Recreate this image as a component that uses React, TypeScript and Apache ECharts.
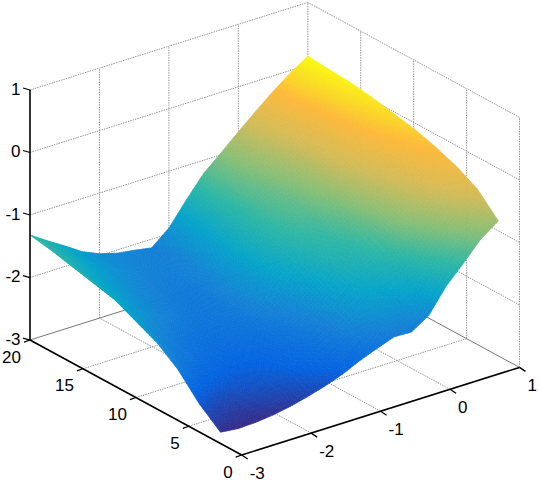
import React, { useEffect, useRef } from "react";
import * as echarts from "echarts";

const xTicks = [-3, -2, -1, 0, 1];
const yTicks = [0, 5, 10, 15, 20];
const zTicks = [-3, -2, -1, 0, 1];

// surface sample positions
const xSamples = [-3, -2.75, -2.5, -2.25, -2, -1.75, -1.5, -1.25, -1, -0.75, -0.5, -0.25, 0, 0.25, 0.5, 0.75, 1];
const ySamples = [2, 4, 6, 8, 10, 12, 14, 16, 18, 20];

// surface heights, one row per y sample
const zAtY2 = [-2.82, -2.85, -2.84, -2.81, -2.76, -2.69, -2.61, -2.51, -2.38, -2.27, -2.17, -2.18, -2.0, -1.62, -1.34, -1.04, -0.84];
const zAtY4 = [-2.55, -2.66, -2.68, -2.62, -2.59, -2.54, -2.44, -2.34, -2.2, -2.02, -1.85, -1.76, -1.63, -1.32, -0.99, -0.72, -0.51];
const zAtY6 = [-2.19, -2.38, -2.46, -2.5, -2.49, -2.44, -2.35, -2.26, -2.1, -1.85, -1.65, -1.55, -1.36, -1.01, -0.74, -0.5, -0.33];
const zAtY8 = [-1.94, -2.18, -2.3, -2.36, -2.38, -2.34, -2.28, -2.16, -1.97, -1.72, -1.5, -1.41, -1.2, -0.87, -0.61, -0.38, -0.2];
const zAtY10 = [-1.78, -2.02, -2.16, -2.25, -2.28, -2.26, -2.2, -2.0, -1.78, -1.58, -1.4, -1.3, -1.09, -0.77, -0.52, -0.28, -0.1];
const zAtY12 = [-1.62, -1.85, -2.0, -2.12, -2.2, -2.22, -2.18, -1.98, -1.72, -1.5, -1.3, -1.19, -0.97, -0.67, -0.41, -0.18, -0.03];
const zAtY14 = [-1.54, -1.75, -1.92, -2.05, -2.14, -2.2, -2.18, -2.02, -1.72, -1.48, -1.26, -1.13, -0.91, -0.62, -0.37, -0.13, 0.04];
const zAtY16 = [-1.46, -1.66, -1.83, -1.97, -2.06, -2.14, -2.16, -2.07, -1.8, -1.5, -1.24, -1.06, -0.83, -0.56, -0.32, -0.09, 0.09];
const zAtY18 = [-1.38, -1.56, -1.73, -1.89, -2.0, -2.08, -2.12, -2.1, -1.88, -1.53, -1.22, -1.0, -0.76, -0.51, -0.27, -0.05, 0.11];
const zAtY20 = [-1.32, -1.5, -1.67, -1.85, -1.97, -2.05, -2.09, -2.14, -1.91, -1.55, -1.21, -0.97, -0.72, -0.48, -0.25, -0.04, 0.14];
const zRows = [zAtY2, zAtY4, zAtY6, zAtY8, zAtY10, zAtY12, zAtY14, zAtY16, zAtY18, zAtY20];

const colorStops = ["#352a87", "#0363e1", "#1481d6", "#06a4ca", "#2eb7a4", "#87bf77", "#d1bb59", "#fdb93a", "#f9fb0e"];
const zColorMin = -2.85;
const zColorMax = 0.14;

const SUB = 8;
const FONT = "'Liberation Sans', Arial, sans-serif";

function project(x: number, y: number, z: number): [number, number] {
  return [
    241.7 + (x + 3) * 69.45 - y * 10.585,
    455 - (x + 3) * 21.9 - y * 5.75 - (z + 3) * 62.5,
  ];
}

const rgb = colorStops.map((c) => [
  parseInt(c.slice(1, 3), 16),
  parseInt(c.slice(3, 5), 16),
  parseInt(c.slice(5, 7), 16),
]);
function colorOf(z: number): string {
  const t = Math.min(1, Math.max(0, (z - zColorMin) / (zColorMax - zColorMin))) * (rgb.length - 1);
  const i = Math.min(rgb.length - 2, Math.floor(t));
  const f = t - i;
  const c = [0, 1, 2].map((n) => Math.round(rgb[i][n] + (rgb[i + 1][n] - rgb[i][n]) * f));
  return `rgb(${c[0]},${c[1]},${c[2]})`;
}

type Seg = { a: [number, number, number]; b: [number, number, number] };

function frameSegments(): { grid: Seg[]; rim: Seg[] } {
  const grid: Seg[] = [];
  const rim: Seg[] = [];
  const [xa, xb] = [xTicks[0], xTicks[xTicks.length - 1]];
  const [ya, yb] = [yTicks[0], yTicks[yTicks.length - 1]];
  const [za, zb] = [zTicks[0], zTicks[zTicks.length - 1]];
  xTicks.slice(1).forEach((x) => {
    grid.push({ a: [x, yb, za], b: [x, yb, zb] });
    if (x !== xb) grid.push({ a: [x, ya, za], b: [x, yb, za] });
  });
  yTicks.slice(0, -1).forEach((y) => {
    grid.push({ a: [xb, y, za], b: [xb, y, zb] });
    if (y !== ya) grid.push({ a: [xa, y, za], b: [xb, y, za] });
  });
  zTicks.slice(1).forEach((z) => {
    grid.push({ a: [xa, yb, z], b: [xb, yb, z] });
    grid.push({ a: [xb, ya, z], b: [xb, yb, z] });
  });
  rim.push({ a: [xa, yb, za], b: [xb, yb, za] });
  rim.push({ a: [xb, ya, za], b: [xb, yb, za] });
  return { grid, rim };
}

export default function App() {
  const ref = useRef<HTMLDivElement>(null);
  useEffect(() => {
    document.body.style.margin = "0";
    const chart = echarts.init(ref.current!, null, { renderer: "svg" });

    const cells: number[][] = [];
    for (let r = ySamples.length - 2; r >= 0; r--) {
      for (let k = xSamples.length - 2; k >= 0; k--) cells.push([k, r]);
    }

    const renderCell = (params: any, api: any) => {
      const k = api.value(0);
      const r = api.value(1);
      const z00 = zRows[r][k];
      const z10 = zRows[r][k + 1];
      const z01 = zRows[r + 1][k];
      const z11 = zRows[r + 1][k + 1];
      const pt = (u: number, v: number) => {
        const x = xSamples[k] + (xSamples[k + 1] - xSamples[k]) * u;
        const y = ySamples[r] + (ySamples[r + 1] - ySamples[r]) * v;
        const z = z00 * (1 - u) * (1 - v) + z10 * u * (1 - v) + z01 * (1 - u) * v + z11 * u * v;
        return { p: api.coord(project(x, y, z)), z };
      };
      const children: any[] = [];
      for (let j = SUB - 1; j >= 0; j--) {
        for (let i = SUB - 1; i >= 0; i--) {
          const a = pt(i / SUB, j / SUB);
          const b = pt((i + 1) / SUB, j / SUB);
          const c = pt((i + 1) / SUB, (j + 1) / SUB);
          const d = pt(i / SUB, (j + 1) / SUB);
          const col = colorOf((a.z + b.z + c.z + d.z) / 4);
          children.push({
            type: "polygon",
            shape: { points: [a.p, b.p, c.p, d.p] },
            style: { fill: col, stroke: col, lineWidth: 0.7 },
          });
        }
      }
      return { type: "group", children };
    };

    const { grid, rim } = frameSegments();
    const line = (s: Seg, api: any, style: any) => {
      const a = api.coord(project(s.a[0], s.a[1], s.a[2]));
      const b = api.coord(project(s.b[0], s.b[1], s.b[2]));
      return { type: "line", shape: { x1: a[0], y1: a[1], x2: b[0], y2: b[1] }, style };
    };

    const renderGrid = (params: any, api: any) => ({
      type: "group",
      children: [
        ...grid.map((s) => line(s, api, { stroke: "#8a8a8a", lineWidth: 0.9, lineDash: [1.5, 1] })),
        ...rim.map((s) => line(s, api, { stroke: "#777777", lineWidth: 1 })),
      ],
    });

    const renderAxes = (params: any, api: any) => {
      const black = { stroke: "#000", lineWidth: 1.6 };
      const tickStyle = { stroke: "#000", lineWidth: 1.3 };
      const text = (s: string, pos: number[], dx: number, dy: number, align: string) => ({
        type: "text",
        style: {
          text: s,
          x: pos[0] + dx,
          y: pos[1] + dy,
          align,
          verticalAlign: "middle",
          fontSize: 17,
          fontFamily: FONT,
          fill: "#000",
        },
      });
      const children: any[] = [
        line({ a: [-3, 0, -3], b: [1, 0, -3] }, api, black),
        line({ a: [-3, 0, -3], b: [-3, 20, -3] }, api, black),
        line({ a: [-3, 20, -3], b: [-3, 20, 1] }, api, black),
      ];
      const tick = (p: number[], dx: number, dy: number) => ({
        type: "line",
        shape: { x1: p[0], y1: p[1], x2: p[0] + dx, y2: p[1] + dy },
        style: tickStyle,
      });
      xTicks.forEach((x) => {
        const p = api.coord(project(x, 0, -3));
        children.push(tick(p, 6, 4));
        children.push(text(String(x), p, 8, 18.5, "left"));
      });
      yTicks.forEach((y) => {
        const p = api.coord(project(-3, y, -3));
        children.push(tick(p, -6, 2.2));
        children.push(text(String(y), p, -9, 17, "right"));
      });
      zTicks.forEach((z) => {
        const p = api.coord(project(-3, 20, z));
        children.push(tick(p, -7, -2));
        children.push(text(String(z), p, -9.5, -1, "right"));
      });
      return { type: "group", children };
    };

    chart.setOption({
      animation: false,
      grid: { left: 0, top: 0, right: 0, bottom: 0 },
      xAxis: { type: "value", min: 0, max: 540, show: false },
      yAxis: { type: "value", min: 0, max: 484, inverse: true, show: false },
      series: [
        { type: "custom", z: 1, coordinateSystem: "cartesian2d", silent: true, clip: false, data: [[0, 0]], renderItem: renderGrid },
        { type: "custom", z: 2, coordinateSystem: "cartesian2d", silent: true, clip: false, progressive: 0, data: cells, renderItem: renderCell },
        { type: "custom", z: 3, coordinateSystem: "cartesian2d", silent: true, clip: false, data: [[0, 0]], renderItem: renderAxes },
      ],
    });
    return () => chart.dispose();
  }, []);
  return <div ref={ref} style={{ width: 540, height: 484 }} />;
}
